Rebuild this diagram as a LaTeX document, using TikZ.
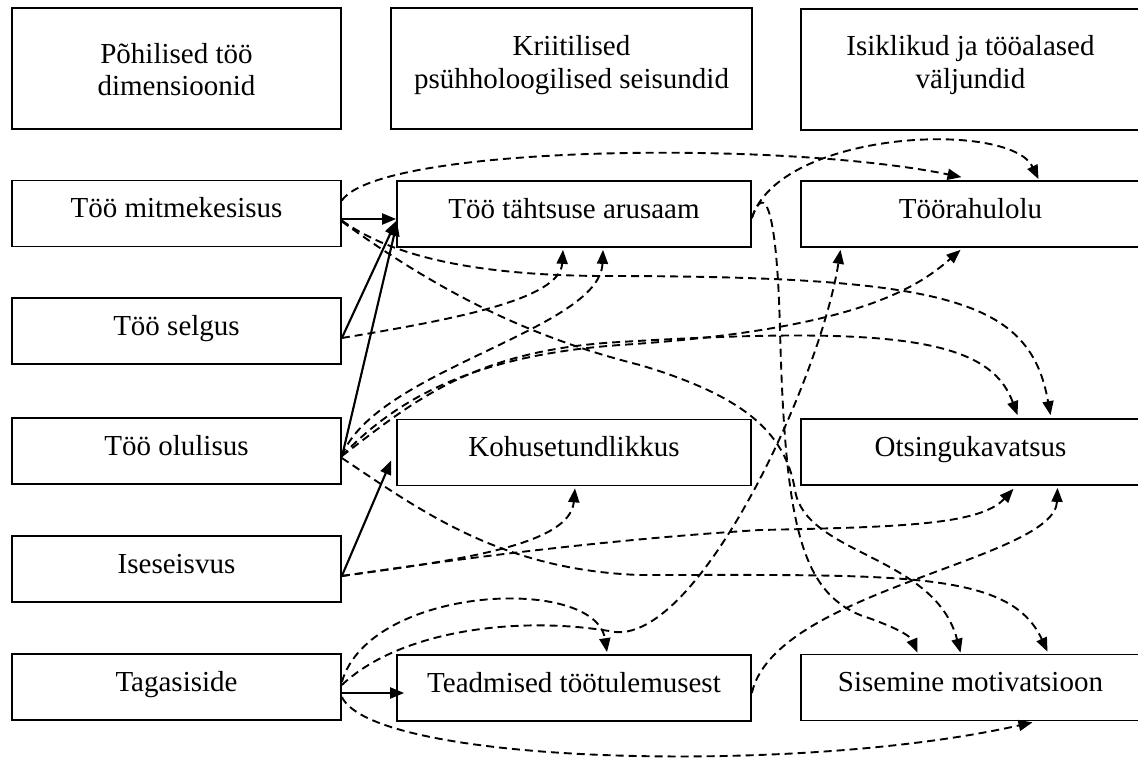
\documentclass[tikz,border=0pt]{standalone}
\usepackage{fontspec}
\setmainfont{Liberation Serif}
\usetikzlibrary{arrows.meta,calc}
\newcommand{\hdtext}[3]{\raisebox{#1}[0pt][0pt]{\begin{tabular}[t]{@{}c@{}}#2\\#3\end{tabular}}}
\begin{document}
\begin{tikzpicture}[x=1pt,y=-1pt,
  txt/.style={font=\fontsize{29}{33}\selectfont},
  box/.style={draw=black, line width=1.7pt, inner sep=0pt, txt, text height=20pt, text depth=12pt, minimum height=66pt},
  lbox/.style={box, minimum width=329pt},
  mbox/.style={box, minimum width=354pt},
  rbox/.style={box, minimum width=339pt},
  hbox/.style={draw=black, line width=1.7pt, inner sep=0pt, txt, minimum height=121pt},
  sol/.style={line width=2.1pt, -{Triangle[length=14pt,width=11pt]}},
  das/.style={line width=1.9pt, dash pattern=on 8pt off 5pt, -{Triangle[length=14pt,width=11pt]}},
]
\useasboundingbox (0,0) rectangle (1138,760);

% headers
\node[hbox, minimum width=329pt] (h1) at (176.5,68.5) {\hdtext{5.5pt}{Põhilised töö}{dimensioonid}};
\node[hbox, minimum width=361pt] (h2) at (571.5,68.5) {\hdtext{13pt}{Kriitilised}{psühholoogilised seisundid}};
\node[hbox, minimum width=339pt] (h3) at (970.5,69.5) {\hdtext{13.5pt}{Isiklikud ja tööalased}{väljundid}};

% left column
\node[lbox] (mit) at (176.5,213.5) {Töö mitmekesisus};
\node[lbox] (sel) at (176.5,331) {Töö selgus};
\node[lbox] (olu) at (176.5,451) {Töö olulisus};
\node[lbox] (ise) at (176.5,569) {Iseseisvus};
\node[lbox] (tag) at (176.5,687) {Tagasiside};

% middle column
\node[mbox] (tah) at (574,214) {Töö tähtsuse arusaam};
\node[mbox] (koh) at (574,452.5) {Kohusetundlikkus};
\node[mbox] (tea) at (574,688) {Teadmised töötulemusest};

% right column
\node[rbox] (ter) at (970.5,214) {Töörahulolu};
\node[rbox] (ots) at (970.5,452) {Otsingukavatsus};
\node[rbox] (sis) at (970.5,687.5) {Sisemine motivatsioon};

% solid connectors
\draw[sol] ($(mit.east)+(0,5.5)$) -- ($(tah.west)+(0,5)$);
\draw[sol] ($(sel.east)+(0,7)$) -- ($(tah.west)+(0,7)$);
\draw[sol] ($(olu.east)+(0,6)$) -- ($(tah.west)+(1,8)$);
\draw[sol] ($(ise.east)+(0,7)$) -- ($(koh.west)+(-5,8)$);
\draw[sol] ($(tag.east)+(0,6)$) -- ($(tea.west)+(8,5)$);

% dashed connectors
\draw[das] ($(mit.east)+(0,-13)$) .. controls (380,145) and (780,140) .. ($(ter.north)+(-9,-3)$);
\draw[das] ($(mit.east)+(0,7)$) .. controls (390,255) and (470,275) .. (600,276) .. controls (950,276) and (1030,300) .. ($(ots.north)+(80,-3)$);
\draw[das] ($(mit.east)+(0,8)$) .. controls (430,285) and (520,335) .. (640,365) .. controls (740,395) and (785,430) .. (795,490) .. controls (805,555) and (935,555) .. ($(sis.north)+(-10,-1)$);
\draw[das] ($(sel.east)+(0,7)$) .. controls (450,320) and (560,300) .. ($(tah.south)+(-11,2)$);
\draw[das] ($(olu.east)+(0,5)$) .. controls (375,370) and (600,330) .. ($(tah.south)+(29,2)$);
\draw[das] ($(olu.east)+(0,5)$) .. controls (400,395) and (480,355) .. (620,345) .. controls (850,330) and (915,290) .. ($(ter.south)+(-10,2)$);
\draw[das] ($(olu.east)+(0,5)$) .. controls (410,405) and (470,350) .. (620,342) .. controls (900,325) and (990,340) .. ($(ots.north)+(47,-3)$);
\draw[das] ($(olu.east)+(0,7)$) .. controls (420,510) and (500,570) .. (640,575) .. controls (900,575) and (1010,570) .. ($(sis.north)+(77,-2)$);
\draw[das] ($(ise.east)+(0,7)$) .. controls (460,560) and (570,545) .. ($(koh.south)+(1,2)$);
\draw[das] ($(ise.east)+(0,7)$) .. controls (450,560) and (600,540) .. (760,530) .. controls (900,527) and (980,525) .. ($(ots.south)+(43,3)$);
\draw[das] ($(tah.east)+(0,4)$) .. controls (780,130) and (1010,120) .. ($(ter.north)+(68,-1)$);
\draw[das] ($(tah.east)+(0,4)$) .. controls (765,180) and (777,210) .. (780,330) .. controls (785,520) and (800,590) .. (860,615) .. controls (890,625) and (910,635) .. ($(sis.north)+(-53,-1)$);
\draw[das] ($(tag.east)+(0,-5)$) .. controls (370,585) and (595,575) .. ($(tea.north)+(33,-2)$);
\draw[das] ($(tag.east)+(0,-2)$) .. controls (400,630) and (520,615) .. (615,632) .. controls (700,640) and (820,380) .. ($(ter.south)+(-130,2)$);
\draw[das] ($(tag.east)+(0,10)$) .. controls (375,765) and (800,775) .. ($(sis.south)+(62,1)$);
\draw[das] ($(tea.east)+(0,5)$) .. controls (775,590) and (1055,560) .. ($(ots.south)+(87,2)$);
\end{tikzpicture}
\end{document}
